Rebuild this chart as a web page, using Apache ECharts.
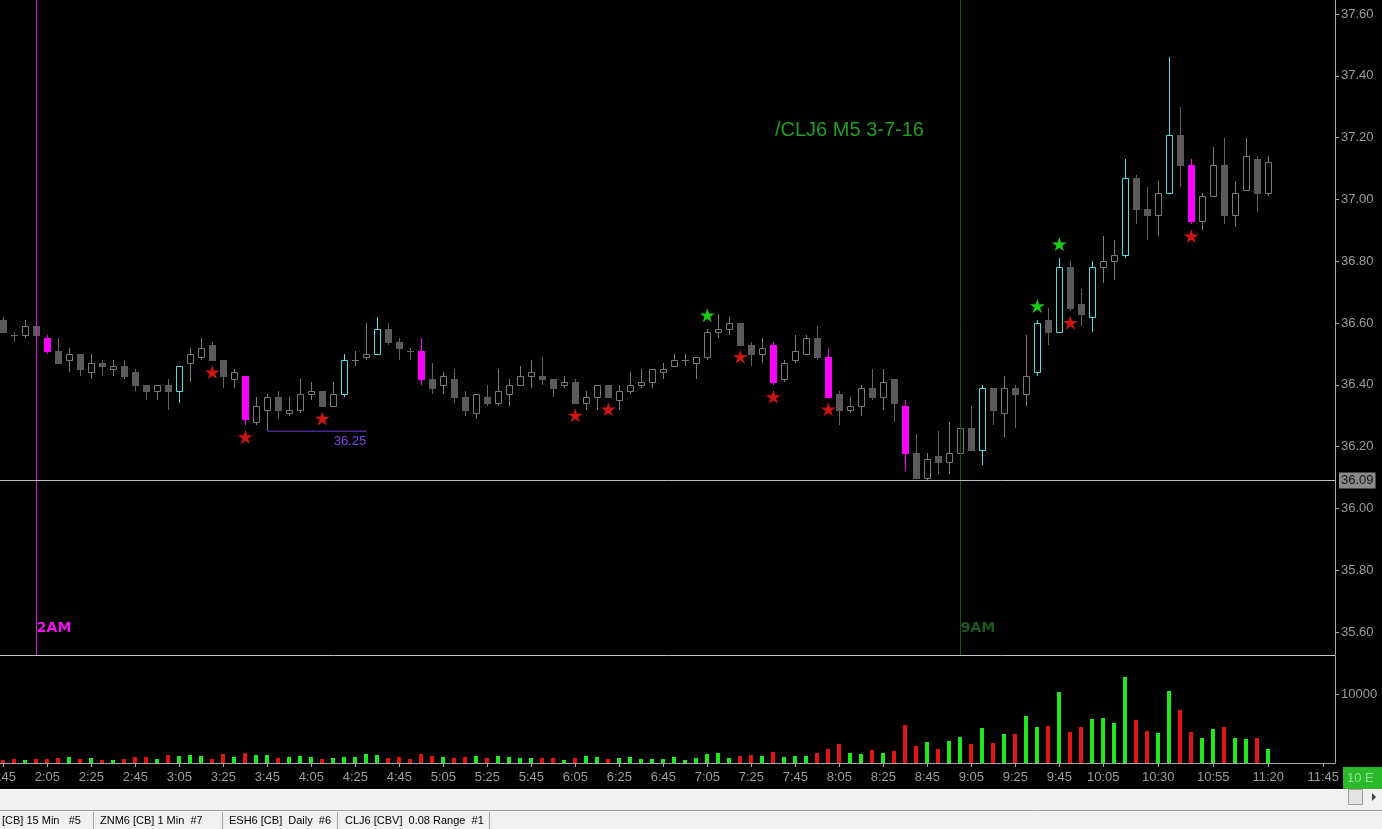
<!DOCTYPE html>
<html>
<head>
<meta charset="utf-8">
<script src="https://cdn.jsdelivr.net/npm/echarts@6/dist/echarts.min.js"></script>
<style>
html,body{margin:0;padding:0;background:#000;}
#chart{width:1382px;height:829px;}
</style>
</head>
<body>
<div id="chart"></div>
<script>
// ---- data (5-minute bars, first bar 1:45) ----
const openP  = [36.61,36.56,36.56,36.59,36.55,36.51,36.48,36.50,36.44,36.47,36.45,36.46,36.44,36.40,36.38,36.40,36.38,36.47,36.49,36.53,
                36.48,36.42,36.43,36.28,36.32,36.36,36.31,36.32,36.37,36.38,36.33,36.37,36.48,36.49,36.50,36.58,36.54,36.51,36.51,36.42,
                36.40,36.42,36.36,36.31,36.36,36.34,36.37,36.40,36.43,36.43,36.42,36.40,36.41,36.34,36.36,36.40,36.35,36.38,36.40,36.41,
                36.44,36.46,36.48,36.47,36.49,36.57,36.58,36.60,36.53,36.50,36.53,36.42,36.48,36.50,36.55,36.49,36.37,36.32,36.33,36.39,
                36.36,36.42,36.33,36.18,36.10,36.17,36.15,36.18,36.26,36.19,36.39,36.31,36.39,36.37,36.44,36.61,36.57,36.78,36.66,36.62,
                36.78,36.80,36.82,37.07,36.97,36.95,37.02,37.21,37.11,36.93,37.01,37.11,36.95,37.03,37.13,37.02];
const closeP = [36.57,36.56,36.59,36.56,36.51,36.47,36.50,36.45,36.47,36.46,36.46,36.43,36.40,36.38,36.40,36.38,36.46,36.50,36.52,36.48,
                36.43,36.44,36.29,36.33,36.36,36.32,36.32,36.37,36.38,36.33,36.37,36.48,36.48,36.50,36.58,36.54,36.52,36.51,36.42,36.39,
                36.43,36.36,36.32,36.37,36.34,36.38,36.40,36.43,36.44,36.42,36.39,36.41,36.34,36.36,36.40,36.36,36.38,36.40,36.41,36.45,
                36.45,36.48,36.48,36.49,36.57,36.58,36.60,36.53,36.50,36.52,36.41,36.47,36.51,36.55,36.49,36.36,36.32,36.33,36.39,36.36,
                36.41,36.34,36.18,36.10,36.16,36.15,36.18,36.26,36.19,36.39,36.32,36.39,36.37,36.43,36.60,36.57,36.78,36.65,36.63,36.78,
                36.80,36.82,37.07,36.97,36.95,37.02,37.21,37.11,36.93,37.01,37.11,36.95,37.02,37.14,37.02,37.12];
const lowP   = [36.57,36.54,36.55,36.56,36.50,36.47,36.44,36.43,36.42,36.43,36.43,36.42,36.38,36.35,36.35,36.32,36.34,36.41,36.48,36.48,
                36.39,36.39,36.27,36.27,36.25,36.29,36.30,36.31,36.35,36.33,36.33,36.36,36.46,36.48,36.50,36.53,36.48,36.48,36.40,36.37,
                36.37,36.34,36.30,36.29,36.33,36.33,36.33,36.40,36.39,36.40,36.36,36.39,36.34,36.32,36.32,36.36,36.32,36.37,36.39,36.39,
                36.42,36.46,36.46,36.42,36.48,36.55,36.56,36.53,36.46,36.47,36.40,36.41,36.47,36.50,36.48,36.36,36.27,36.31,36.30,36.35,
                36.32,36.28,36.12,36.10,36.09,36.11,36.11,36.09,36.19,36.14,36.27,36.23,36.26,36.33,36.43,36.53,36.57,36.64,36.59,36.57,
                36.73,36.74,36.81,36.92,36.87,36.88,37.02,37.04,36.92,36.90,37.01,36.92,36.91,37.03,36.96,37.01];
const highP  = [36.62,36.57,36.61,36.59,36.56,36.55,36.52,36.50,36.50,36.48,36.48,36.48,36.45,36.40,36.40,36.42,36.46,36.52,36.55,36.54,
                36.48,36.45,36.43,36.36,36.37,36.38,36.36,36.42,36.41,36.38,36.41,36.50,36.51,36.60,36.62,36.60,36.55,36.52,36.55,36.47,
                36.44,36.45,36.38,36.37,36.40,36.45,36.42,36.46,36.48,36.49,36.42,36.43,36.42,36.38,36.40,36.40,36.40,36.44,36.45,36.45,
                36.47,36.50,36.50,36.49,36.58,36.63,36.62,36.60,36.54,36.55,36.54,36.48,36.56,36.56,36.59,36.52,36.38,36.36,36.40,36.45,
                36.45,36.42,36.35,36.24,36.18,36.25,36.28,36.31,36.33,36.40,36.39,36.43,36.40,36.56,36.61,36.65,36.81,36.80,36.71,36.80,
                36.88,36.87,37.13,37.08,37.04,37.06,37.46,37.30,37.13,37.02,37.17,37.20,37.06,37.20,37.14,37.14];
const volume = [435,580,435,580,580,770,870,630,770,435,435,630,870,870,580,1200,1015,1200,1015,630,
                1300,870,1450,1200,1160,770,870,1015,870,630,770,870,870,1300,1160,770,870,630,1300,1060,
                870,700,825,970,680,970,825,680,680,680,680,390,680,970,825,535,680,825,535,535,
                535,825,390,680,1260,1400,680,970,1115,970,1550,825,970,970,1400,1985,2710,1400,1260,1840,
                1400,1695,5550,2460,3040,2030,3190,3770,2800,5070,2950,4200,4200,6800,5200,5400,10300,4540,5200,6380,
                6520,5800,12460,6230,4640,4350,10430,7680,4540,3620,4930,5200,3620,3480,3620,2030];
const cyanBars    = [16,31,34,89,94,96,99,102,106];        // highlighted up bars
const magentaBars = [4,22,38,70,75,82,108];                // highlighted down bars
const redStars    = [19,22,29,52,55,67,70,75,97,108];      // signals below bar low
const greenStars  = [64,94,96];                            // signals above bar high
const timeLabels  = ['1:45','2:05','2:25','2:45','3:05','3:25','3:45','4:05','4:25','4:45','5:05','5:25','5:45','6:05',
                     '6:25','6:45','7:05','7:25','7:45','8:05','8:25','8:45','9:05','9:25','9:45','10:05','10:30','10:55','11:20','11:45'];
const priceTicks  = [35.6,35.8,36.0,36.2,36.4,36.6,36.8,37.0,37.2,37.4,37.6];
const volumeTicks = [10000];
const lowOfDay = 36.09, lastPrice = 37.12, swingLow = 36.25;
const swingLowFrom = 24, swingLowTo = 33;
const session2AM = 3, session9AM = 87;
const tabs = ['[CB] 15 Min   #5', 'ZNM6 [CB] 1 Min  #7', 'ESH6 [CB]  Daily  #6', 'CLJ6 [CBV]  0.08 Range  #1'];

// ---- helpers ----
const FONT = 'Liberation Sans';
const toIdx = t => { const [h, m] = t.split(':').map(Number); return (h * 60 + m - 105) / 5; };
const tickIdx = timeLabels.map(toIdx);
const labelMap = {}; timeLabels.forEach(t => { labelMap[toIdx(t)] = t; });
const isUp = i => closeP[i] !== openP[i] ? closeP[i] > openP[i] : (i === 0 || closeP[i] >= closeP[i - 1]);
const kindOf = i => cyanBars.includes(i) ? 1 : (magentaBars.includes(i) ? 2 : 0);
const candleData = openP.map((o, i) => [i, o, closeP[i], lowP[i], highP[i], kindOf(i), isUp(i) ? 1 : 0]);
const volData = volume.map((v, i) => [i, v, isUp(i) ? 1 : 0]);

const starPath = 'path://M50 0 L61.2 34.5 L97.6 34.5 L68.2 55.9 L79.4 90.5 L50 69.1 L20.6 90.5 L31.8 55.9 L2.4 34.5 L38.8 34.5 Z';

function renderCandle(params, api) {
  const i = api.value(0), o = api.value(1), c = api.value(2), l = api.value(3), h = api.value(4);
  const kind = api.value(5), up = api.value(6) === 1;
  const po = api.coord([i, o]), pc = api.coord([i, c]), pl = api.coord([i, l]), ph = api.coord([i, h]);
  const cx = Math.round(po[0]) + 0.5;
  let stroke, fill, hollow;
  if (kind === 1) { stroke = '#55dede'; fill = '#000'; hollow = true; }
  else if (kind === 2) { stroke = '#ff00ff'; fill = '#ff00ff'; hollow = false; }
  else if (up) { stroke = '#7a7a7a'; fill = '#000'; hollow = true; }
  else { stroke = '#656565'; fill = '#5a5a5a'; hollow = false; }
  const top = Math.round(Math.min(po[1], pc[1])), bot = Math.round(Math.max(po[1], pc[1]));
  const children = [{
    type: 'line', shape: { x1: cx, y1: Math.round(ph[1]), x2: cx, y2: Math.round(pl[1]) },
    style: { stroke: stroke, lineWidth: 1 }
  }];
  if (bot - top < 1) {
    children.push({ type: 'line', shape: { x1: cx - 3.5, y1: top + 0.5, x2: cx + 3.5, y2: top + 0.5 }, style: { stroke: stroke, lineWidth: 1 } });
  } else if (hollow) {
    children.push({ type: 'rect', shape: { x: cx - 3, y: top + 0.5, width: 6, height: bot - top }, style: { fill: fill, stroke: stroke, lineWidth: 1 } });
  } else {
    children.push({ type: 'rect', shape: { x: cx - 3.5, y: top, width: 7, height: bot - top + 1 }, style: { fill: fill, stroke: null } });
  }
  return { type: 'group', children: children };
}

function renderVolume(params, api) {
  const i = api.value(0), v = api.value(1), up = api.value(2) === 1;
  const p0 = api.coord([i, 0]), p1 = api.coord([i, v]);
  const x = Math.round(p0[0]) - 2;
  const yTop = Math.round(p1[1]);
  return { type: 'rect', shape: { x: x, y: yTop, width: 4, height: Math.round(p0[1]) - yTop },
           style: { fill: up ? '#1fe81f' : '#e21414' } };
}

const chart = echarts.init(document.getElementById('chart'), null, { renderer: 'canvas' });
const axisGray = '#a6a6a6';
const graphic = [
  { type: 'rect', shape: { x: 1343, y: 767, width: 39, height: 22 }, style: { fill: '#2bb82b' } },
  { type: 'text', x: 1347, y: 778, style: { text: '10 E', fill: '#8fe68f', font: '13px "Liberation Sans"', textVerticalAlign: 'middle' } },
  { type: 'rect', shape: { x: 0, y: 789, width: 1382, height: 40 }, style: { fill: '#f0f0f0' } },
  { type: 'line', shape: { x1: 0, y1: 789.5, x2: 1382, y2: 789.5 }, style: { stroke: '#ffffff' } },
  { type: 'rect', shape: { x: 1348.5, y: 789.5, width: 14, height: 15 }, style: { fill: '#e4e4e4', stroke: '#9a9a9a' } },
  { type: 'polygon', shape: { points: [[1372, 793], [1376, 797], [1372, 801]] }, style: { fill: '#404040' } },
  { type: 'line', shape: { x1: 0, y1: 810.5, x2: 1382, y2: 810.5 }, style: { stroke: '#a0a0a0' } },
  { type: 'line', shape: { x1: 0, y1: 811.5, x2: 1382, y2: 811.5 }, style: { stroke: '#ffffff' } }
];
const tabX = [2, 100, 229, 345], tabSep = [93.5, 222.5, 337.5, 489.5];
tabSep.forEach(x => graphic.push({ type: 'line', shape: { x1: x, y1: 812, x2: x, y2: 829 }, style: { stroke: '#a0a0a0' } }));
tabs.forEach((t, k) => graphic.push({ type: 'text', x: tabX[k], y: 821,
  style: { text: t, fill: '#000', font: '11px "Liberation Sans"', textVerticalAlign: 'middle' } }));

const option = {
  backgroundColor: '#000000',
  animation: false,
  title: {
    text: '/CLJ6 M5 3-7-16', left: 775, top: 120, padding: 0,
    textStyle: { color: '#1f9e1f', fontSize: 20, fontWeight: 'normal', fontFamily: FONT }
  },
  grid: [
    { left: 0, top: 0, width: 1335, height: 655, outerBoundsMode: 'none', containLabel: false },
    { left: 0, top: 656, width: 1335, height: 107, outerBoundsMode: 'none', containLabel: false }
  ],
  xAxis: [
    { type: 'value', gridIndex: 0, min: -0.3, max: 121.064,
      axisLine: { show: true, onZero: false, lineStyle: { color: '#c4c4c4' } }, axisTick: { show: false },
      axisLabel: { show: false }, splitLine: { show: false } },
    { type: 'value', gridIndex: 1, min: -0.3, max: 121.064,
      axisLine: { show: true, onZero: false, lineStyle: { color: axisGray } },
      axisTick: { show: true, customValues: tickIdx, length: 4, lineStyle: { color: axisGray } },
      axisLabel: { customValues: tickIdx, formatter: v => labelMap[v] || '', color: '#9c9c9c', fontSize: 13, margin: 8, fontFamily: FONT },
      splitLine: { show: false } }
  ],
  yAxis: [
    { type: 'value', gridIndex: 0, position: 'right', min: 35.5256, max: 37.6453,
      axisLine: { show: true, onZero: false, lineStyle: { color: axisGray } },
      axisTick: { show: true, customValues: priceTicks, length: 4, lineStyle: { color: axisGray } },
      axisLabel: { customValues: priceTicks, formatter: v => v.toFixed(2), color: '#9c9c9c', fontSize: 13, margin: 6, fontFamily: FONT },
      splitLine: { show: false } },
    { type: 'value', gridIndex: 1, position: 'right', min: 0, max: 15500,
      axisLine: { show: true, onZero: false, lineStyle: { color: axisGray } },
      axisTick: { show: true, customValues: volumeTicks, length: 4, lineStyle: { color: axisGray } },
      axisLabel: { customValues: volumeTicks, formatter: v => String(v), color: '#9c9c9c', fontSize: 13, margin: 6, fontFamily: FONT },
      splitLine: { show: false } }
  ],
  series: [
    { type: 'custom', name: 'CLJ6', xAxisIndex: 0, yAxisIndex: 0, renderItem: renderCandle, data: candleData, clip: true,
      encode: { x: 0, y: [1, 2, 3, 4] }, silent: true },
    { type: 'line', name: 'swing low', xAxisIndex: 0, yAxisIndex: 0, symbol: 'none', silent: true,
      lineStyle: { color: '#6a3ed8', width: 1 },
      data: [[swingLowFrom, swingLow], [swingLowTo, swingLow]],
      markLine: {
        silent: true, symbol: ['none', 'none'], animation: false,
        data: [
          { xAxis: session2AM, lineStyle: { color: '#e010e0', width: 1, type: 'solid' }, label: { show: false } },
          { xAxis: session9AM, lineStyle: { color: '#1d4f1d', width: 1, type: 'solid' }, label: { show: false } },
          { yAxis: lowOfDay, lineStyle: { color: '#bdbdbd', width: 1, type: 'solid' },
            label: { show: true, position: 'end', formatter: lowOfDay.toFixed(2), distance: 4, color: '#111', backgroundColor: '#8a8a8a',
                     padding: [2, 2, 1, 2], fontSize: 13, fontFamily: FONT } },
          { yAxis: lastPrice, lineStyle: { opacity: 0 },
            label: { show: true, position: 'end', formatter: lastPrice.toFixed(2), distance: 4, color: '#000', backgroundColor: '#ffffff',
                     padding: [2, 2, 1, 2], fontSize: 13, fontFamily: FONT } }
        ]
      },
      markPoint: {
        silent: true, symbol: 'circle', symbolSize: 1, itemStyle: { color: 'rgba(0,0,0,0)' },
        data: [
          { coord: [session2AM, 35.613], label: { show: true, formatter: '2AM', position: 'right', distance: 0, color: '#f010f0', fontWeight: 'bold', fontSize: 14, fontFamily: 'DejaVu Sans' } },
          { coord: [session9AM, 35.613], label: { show: true, formatter: '9AM', position: 'right', distance: 0, color: '#1f5a1f', fontWeight: 'bold', fontSize: 14, fontFamily: 'DejaVu Sans' } },
          { coord: [swingLowTo, swingLow], label: { show: true, formatter: swingLow.toFixed(2), position: 'bottom', align: 'right', distance: 3,
                     color: '#7446e6', fontSize: 13, fontFamily: FONT } }
        ]
      }
    },
    { type: 'scatter', name: 'sell signal', xAxisIndex: 0, yAxisIndex: 0, symbol: starPath, symbolSize: [15, 14],
      symbolOffset: [0, 12], itemStyle: { color: '#ff1a1a' }, silent: true,
      data: redStars.map(i => [i, lowP[i]]) },
    { type: 'scatter', name: 'buy signal', xAxisIndex: 0, yAxisIndex: 0, symbol: starPath, symbolSize: [15, 14],
      symbolOffset: [0, -14], itemStyle: { color: '#22ff22' }, silent: true,
      data: greenStars.map(i => [i, highP[i]]) },
    { type: 'custom', name: 'Volume', xAxisIndex: 1, yAxisIndex: 1, renderItem: renderVolume, data: volData, clip: true,
      encode: { x: 0, y: 1 }, silent: true }
  ],
  graphic: graphic
};
chart.setOption(option);
</script>
</body>
</html>
